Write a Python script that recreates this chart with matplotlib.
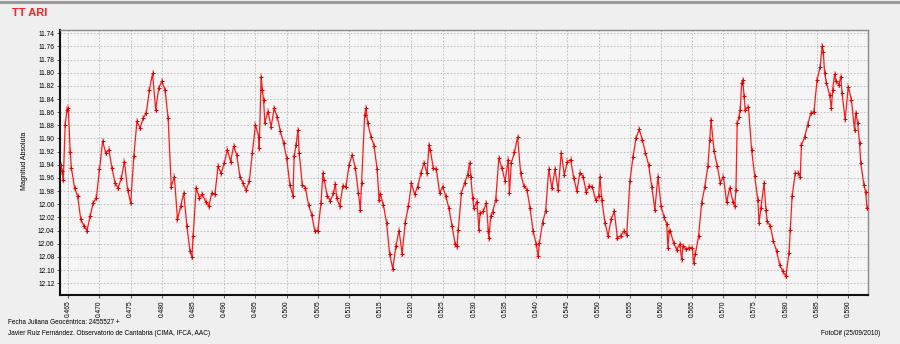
import matplotlib.pyplot as plt
from matplotlib.ticker import MultipleLocator, FormatStrFormatter

plt.rcParams['font.family'] = ['Liberation Sans', 'DejaVu Sans']

# Julian date fraction (2455527 + t) and magnitude
times = [
    0.4638, 0.4640, 0.4642, 0.4645, 0.4648, 0.4650, 0.4653, 0.4655, 0.4660, 0.4665,
    0.4670, 0.4675, 0.4680, 0.4685, 0.4690, 0.4695, 0.4700, 0.4705, 0.4710, 0.4715,
    0.4720, 0.4725, 0.4730, 0.4735, 0.4740, 0.4745, 0.4750, 0.4755, 0.4760, 0.4765,
    0.4770, 0.4775, 0.4780, 0.4785, 0.4790, 0.4795, 0.4800, 0.4805, 0.4810, 0.4815,
    0.4820, 0.4825, 0.4830, 0.4835, 0.4840, 0.4845, 0.4848, 0.4850, 0.4855, 0.4860,
    0.4865, 0.4870, 0.4875, 0.4880, 0.4885, 0.4890, 0.4895, 0.4900, 0.4905, 0.4910,
    0.4915, 0.4920, 0.4925, 0.4930, 0.4935, 0.4940, 0.4945, 0.4950, 0.4955, 0.4956,
    0.4959, 0.4961, 0.4963, 0.4965, 0.4970, 0.4975, 0.4980, 0.4985, 0.4990, 0.4995,
    0.5000, 0.5005, 0.5010, 0.5012, 0.5015, 0.5018, 0.5020, 0.5025, 0.5030, 0.5035,
    0.5040, 0.5045, 0.5050, 0.5055, 0.5058, 0.5060, 0.5065, 0.5070, 0.5075, 0.5078,
    0.5080, 0.5085, 0.5090, 0.5095, 0.5100, 0.5105, 0.5110, 0.5115, 0.5118, 0.5120,
    0.5125, 0.5127, 0.5130, 0.5135, 0.5140, 0.5145, 0.5148, 0.5150, 0.5155, 0.5160,
    0.5165, 0.5170, 0.5175, 0.5180, 0.5185, 0.5190, 0.5195, 0.5200, 0.5205, 0.5210,
    0.5215, 0.5220, 0.5225, 0.5228, 0.5230, 0.5235, 0.5240, 0.5245, 0.5250, 0.5255,
    0.5260, 0.5265, 0.5270, 0.5273, 0.5275, 0.5280, 0.5285, 0.5290, 0.5293, 0.5295,
    0.5298, 0.5300, 0.5305, 0.5308, 0.5310, 0.5315, 0.5320, 0.5323, 0.5324, 0.5327,
    0.5330, 0.5335, 0.5340, 0.5345, 0.5350, 0.5355, 0.5357, 0.5360, 0.5365, 0.5370,
    0.5375, 0.5380, 0.5385, 0.5390, 0.5395, 0.5400, 0.5403, 0.5405, 0.5410, 0.5415,
    0.5420, 0.5425, 0.5430, 0.5435, 0.5440, 0.5445, 0.5450, 0.5455, 0.5460, 0.5465,
    0.5470, 0.5475, 0.5480, 0.5485, 0.5490, 0.5495, 0.5500, 0.5502, 0.5505, 0.5510,
    0.5515, 0.5520, 0.5525, 0.5530, 0.5535, 0.5540, 0.5545, 0.5550, 0.5555, 0.5560,
    0.5565, 0.5570, 0.5575, 0.5580, 0.5585, 0.5590, 0.5595, 0.5600, 0.5605, 0.5609,
    0.5611, 0.5613, 0.5615, 0.5620, 0.5625, 0.5630, 0.5633, 0.5635, 0.5640, 0.5645,
    0.5650, 0.5652, 0.5655, 0.5660, 0.5665, 0.5670, 0.5675, 0.5678, 0.5680, 0.5685,
    0.5690, 0.5695, 0.5700, 0.5705, 0.5710, 0.5715, 0.5718, 0.5720, 0.5722, 0.5725,
    0.5727, 0.5729, 0.5731, 0.5733, 0.5735, 0.5740, 0.5745, 0.5750, 0.5755, 0.5757,
    0.5760, 0.5765, 0.5768, 0.5770, 0.5775, 0.5780, 0.5785, 0.5790, 0.5795, 0.5800,
    0.5805, 0.5807, 0.5810, 0.5815, 0.5820, 0.5823, 0.5825, 0.5830, 0.5835, 0.5840,
    0.5845, 0.5850, 0.5855, 0.5858, 0.5860, 0.5862, 0.5865, 0.5870, 0.5873, 0.5875,
    0.5878, 0.5880, 0.5885, 0.5888, 0.5890, 0.5895, 0.5900, 0.5905, 0.5910, 0.5912,
    0.5915, 0.5918, 0.5920, 0.5925, 0.5928, 0.5930,
]
mags = [
    11.940, 11.950, 11.963, 11.879, 11.856, 11.853, 11.920, 11.945, 11.975, 11.988,
    12.023, 12.033, 12.040, 12.018, 11.998, 11.990, 11.947, 11.904, 11.922, 11.917,
    11.945, 11.968, 11.975, 11.960, 11.935, 11.978, 11.998, 11.927, 11.874, 11.884,
    11.869, 11.861, 11.826, 11.801, 11.856, 11.823, 11.813, 11.826, 11.869, 11.973,
    11.958, 12.023, 12.003, 11.983, 12.033, 12.071, 12.080, 12.049, 11.975, 11.990,
    11.985, 11.996, 12.003, 11.983, 11.985, 11.942, 11.953, 11.937, 11.917, 11.935,
    11.912, 11.925, 11.958, 11.968, 11.978, 11.965, 11.922, 11.879, 11.897, 11.915,
    11.806, 11.826, 11.842, 11.876, 11.859, 11.882, 11.854, 11.868, 11.889, 11.907,
    11.930, 11.970, 11.987, 11.927, 11.910, 11.887, 11.922, 11.970, 11.975, 12.001,
    12.016, 12.040, 12.040, 11.998, 11.953, 11.963, 11.987, 11.995, 11.983, 11.969,
    11.990, 12.003, 11.972, 11.973, 11.940, 11.925, 11.945, 11.983, 12.008, 11.968,
    11.864, 11.854, 11.877, 11.897, 11.911, 11.947, 11.993, 11.984, 12.001, 12.028,
    12.076, 12.098, 12.064, 12.040, 12.075, 12.028, 12.003, 11.968, 11.985, 11.973,
    11.953, 11.937, 11.953, 11.910, 11.917, 11.945, 11.947, 11.983, 11.973, 11.988,
    12.006, 12.033, 12.061, 12.064, 12.039, 11.983, 11.968, 11.955, 11.937, 11.958,
    11.990, 12.006, 11.996, 12.039, 12.013, 12.011, 11.998, 12.040, 12.052, 12.018,
    12.012, 11.993, 11.930, 11.945, 11.965, 11.932, 11.983, 11.937, 11.921, 11.898,
    11.953, 11.972, 11.978, 12.006, 12.041, 12.061, 12.079, 12.059, 12.028, 12.010,
    11.947, 11.975, 11.947, 11.978, 11.922, 11.955, 11.935, 11.932, 11.960, 11.980,
    11.952, 11.958, 11.981, 11.972, 11.974, 11.993, 11.988, 11.958, 11.993, 12.028,
    12.048, 12.023, 12.011, 12.051, 12.048, 12.041, 12.046, 11.965, 11.928, 11.899,
    11.886, 11.902, 11.922, 11.940, 11.973, 12.008, 11.958, 12.003, 12.020, 12.030,
    12.066, 12.040, 12.041, 12.059, 12.069, 12.061, 12.084, 12.064, 12.068, 12.066,
    12.066, 12.089, 12.075, 12.049, 11.998, 11.974, 11.942, 11.902, 11.872, 11.919,
    11.942, 11.967, 11.958, 11.997, 11.975, 11.996, 12.003, 11.978, 11.877, 11.867,
    11.856, 11.816, 11.811, 11.836, 11.856, 11.852, 11.917, 11.957, 11.993, 12.028,
    12.006, 11.968, 12.008, 12.026, 12.033, 12.056, 12.071, 12.092, 12.102, 12.109,
    12.074, 12.039, 11.988, 11.953, 11.953, 11.958, 11.910, 11.898, 11.879, 11.861,
    11.859, 11.811, 11.791, 11.760, 11.768, 11.800, 11.815, 11.834, 11.853, 11.826,
    11.802, 11.813, 11.818, 11.806, 11.831, 11.871, 11.821, 11.841, 11.887, 11.861,
    11.876, 11.907, 11.937, 11.970, 11.982, 12.006,
]
mag_err = 0.005

title = 'TT ARI'
y_label = 'Magnitud Absoluta'
footer_left = ['Fecha Juliana Geocéntrica: 2455527 +',
               'Javier Ruiz Fernández. Observatorio de Cantabria (CIMA, IFCA, AAC)']
footer_right = 'FotoDif (25/09/2010)'

W, H = 900, 344
fig = plt.figure(figsize=(W / 100, H / 100), dpi=100, facecolor='#efefef')
ax = fig.add_axes([60 / W, 1 - 295 / H, (868.3 - 60) / W, (295 - 30) / H])
ax.set_facecolor('#f5f5f5')

ax.errorbar(times, mags, yerr=mag_err, fmt='none', ecolor='#ff9c9c',
            elinewidth=1.3, capsize=0, zorder=2)
ax.plot(times, mags, color='#ff1a1a', lw=0.9, marker='+', ms=3, mew=0.7,
        mec='#e00000', zorder=3)

ax.set_xlim(0.46367, 0.59321)
ax.set_ylim(12.138, 11.735)
ax.xaxis.set_major_locator(MultipleLocator(0.005))
ax.xaxis.set_major_formatter(FormatStrFormatter('%.3f'))
ax.yaxis.set_major_locator(MultipleLocator(0.02))
ax.yaxis.set_major_formatter(FormatStrFormatter('%.2f'))
ax.tick_params(axis='both', labelsize=4.8, length=2, width=0.6, color='#444444', pad=2)
ax.tick_params(axis='x', labelrotation=90)
ax.grid(True, color='#b8b8b8', linestyle=(0, (2, 2)), linewidth=0.6)
ax.set_axisbelow(True)

for side in ['left', 'bottom']:
    ax.spines[side].set_color('#111111')
    ax.spines[side].set_linewidth(1.5)
for side in ['top', 'right']:
    ax.spines[side].set_color('#8a8a8a')
    ax.spines[side].set_linewidth(1.0)

fig.text(25 / W, 1 - 161 / H, y_label, rotation=90, fontsize=5, ha='center', va='center')
fig.text(12 / W, 1 - 13 / H, title, color='#ff2020', fontsize=8, fontweight='bold',
         ha='left', va='center')
fig.text(8 / W, 1 - 323 / H, footer_left[0], fontsize=4.7, ha='left', va='center')
fig.text(8 / W, 1 - 333.5 / H, footer_left[1], fontsize=4.7, ha='left', va='center')
fig.text(880 / W, 1 - 333.5 / H, footer_right, fontsize=4.7, ha='right', va='center')
fig.add_artist(plt.Line2D([0, 1], [1 - 1.5 / H, 1 - 1.5 / H], color='#9a9a9a', lw=2.2))

fig.savefig('out.png', dpi=100, facecolor=fig.get_facecolor())
